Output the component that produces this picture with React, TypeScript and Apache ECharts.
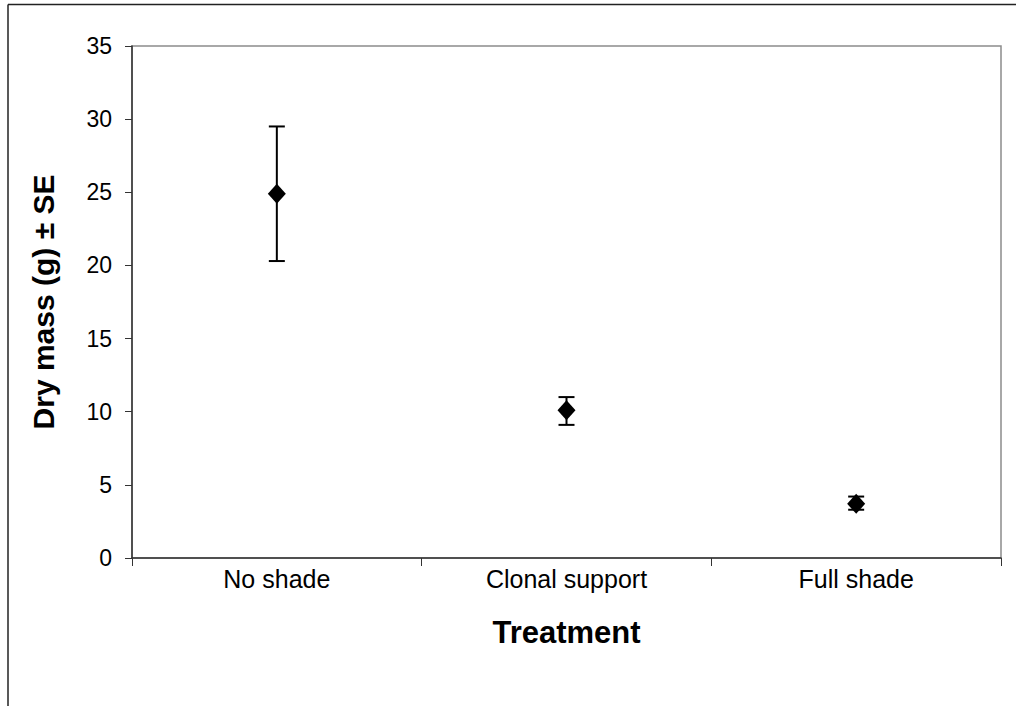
import React, { useEffect, useRef } from "react";
import * as echarts from "echarts";

const categories = ["No shade", "Clonal support", "Full shade"];
const means = [24.9, 10.1, 3.7];
const seLow = [20.3, 9.1, 3.3];
const seHigh = [29.5, 11.0, 4.2];
const yTicks = { min: 0, max: 35, interval: 5 };

export default function App() {
  const ref = useRef<HTMLDivElement>(null);
  useEffect(() => {
    if (!ref.current) return;
    const chart = echarts.init(ref.current, null, { renderer: "svg" });
    const font = "Liberation Sans, Arial, sans-serif";
    chart.setOption({
      animation: false,
      backgroundColor: "#ffffff",
      textStyle: { fontFamily: font },
      grid: {
        left: 132,
        top: 46,
        right: 15,
        bottom: 148,
        show: true,
        borderColor: "#8c8c8c",
        borderWidth: 1.5,
        backgroundColor: "transparent",
      },
      graphic: [
        { type: "line", shape: { x1: 8, y1: 4.5, x2: 1016, y2: 4.5 }, style: { stroke: "#222", lineWidth: 1.5 } },
        { type: "line", shape: { x1: 8, y1: 4.5, x2: 8, y2: 706 }, style: { stroke: "#222", lineWidth: 1.5 } },
      ],
      xAxis: {
        type: "category",
        data: categories,
        boundaryGap: true,
        name: "Treatment",
        nameLocation: "middle",
        nameGap: 59,
        nameTextStyle: { fontSize: 31, fontWeight: "bold", color: "#000", fontFamily: font },
        axisLine: { lineStyle: { color: "#333", width: 1.5 } },
        axisTick: { show: true, length: 8, lineStyle: { color: "#333", width: 1 } },
        axisLabel: { fontSize: 25, color: "#000", margin: 8, fontFamily: font },
        splitLine: { show: false },
      },
      yAxis: {
        type: "value",
        min: yTicks.min,
        max: yTicks.max,
        interval: yTicks.interval,
        name: "Dry mass (g) ± SE",
        nameLocation: "middle",
        nameGap: 74,
        nameRotate: 90,
        nameTextStyle: { fontSize: 30, fontWeight: "bold", color: "#000", fontFamily: font },
        axisLine: { show: true, lineStyle: { color: "#333", width: 1.5 } },
        axisTick: { show: true, length: 7, lineStyle: { color: "#333", width: 1 } },
        axisLabel: { fontSize: 23, color: "#000", margin: 20, fontFamily: font },
        splitLine: { show: false },
      },
      series: [
        {
          type: "custom",
          data: categories.map((_, i) => [i, seLow[i], seHigh[i]]),
          renderItem: (params: any, api: any) => {
            const x = api.value(0);
            const lo = api.coord([x, api.value(1)]);
            const hi = api.coord([x, api.value(2)]);
            const hw = 8;
            const style = { stroke: "#000", lineWidth: 2 };
            return {
              type: "group",
              children: [
                { type: "line", shape: { x1: lo[0], y1: lo[1], x2: hi[0], y2: hi[1] }, style },
                { type: "line", shape: { x1: lo[0] - hw, y1: lo[1], x2: lo[0] + hw, y2: lo[1] }, style },
                { type: "line", shape: { x1: hi[0] - hw, y1: hi[1], x2: hi[0] + hw, y2: hi[1] }, style },
              ],
            };
          },
          z: 2,
        },
        {
          type: "scatter",
          data: means,
          symbol: "diamond",
          symbolSize: [18, 20],
          itemStyle: { color: "#000", opacity: 1 },
          z: 3,
        },
      ],
    });
    return () => chart.dispose();
  }, []);
  return (
    <div
      ref={ref}
      style={{ position: "fixed", left: 0, top: 0, width: 1016, height: 706 }}
    />
  );
}
